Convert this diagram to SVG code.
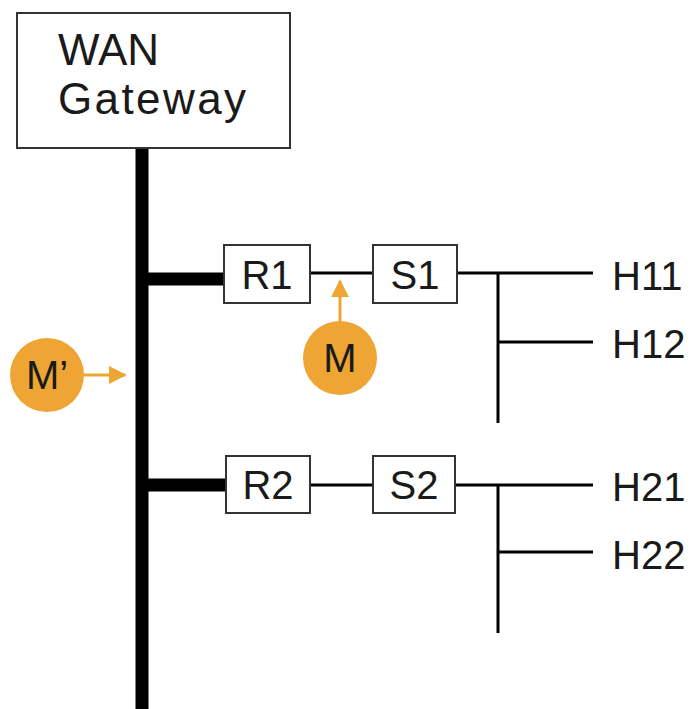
<svg xmlns="http://www.w3.org/2000/svg" width="698" height="709" viewBox="0 0 698 709">
<defs>
<style>
.box{fill:#fff;stroke:#333;stroke-width:2}
.t{font-family:"Liberation Sans",Arial,sans-serif;fill:#1a1a1a}
.thin{stroke:#000;stroke-width:3;fill:none}
.thick{stroke:#000;stroke-width:13;fill:none}
.or{stroke:#EFA534;stroke-width:3;fill:none}
.circ{fill:#EFA534}
</style>
<marker id="ah" viewBox="0 0 10 10" refX="9" refY="5" markerWidth="6" markerHeight="6" orient="auto" markerUnits="strokeWidth">
<path d="M0,0 L10,5 L0,10 Z" fill="#EFA534"/>
</marker>
</defs>
<rect width="698" height="709" fill="#fff"/>
<g id="connectors">
<line class="thick" x1="142" y1="148" x2="142" y2="709"/>
<line class="thick" x1="142" y1="279" x2="224" y2="279"/>
<line class="thick" x1="142" y1="485" x2="226" y2="485"/>
<line class="thin" x1="310" y1="273" x2="373" y2="273"/>
<line class="thin" x1="310" y1="485" x2="373" y2="485"/>
<line class="thin" x1="457" y1="273" x2="593" y2="273"/>
<line class="thin" x1="498" y1="273" x2="498" y2="423"/>
<line class="thin" x1="498" y1="342" x2="593" y2="342"/>
<line class="thin" x1="455" y1="485" x2="593" y2="485"/>
<line class="thin" x1="498" y1="485" x2="498" y2="633"/>
<line class="thin" x1="498" y1="552" x2="593" y2="552"/>
<line class="or" x1="340" y1="322" x2="340" y2="281" marker-end="url(#ah)"/>
<line class="or" x1="84" y1="375" x2="125" y2="375" marker-end="url(#ah)"/>
</g>
<g id="wan">
<rect class="box" x="17" y="13" width="273" height="135"/>
<text class="t" x="58" y="65" font-size="44">WAN</text>
<text class="t" x="58" y="114" font-size="44" textLength="188">Gateway</text>
</g>
<g id="r1">
<rect class="box" x="224" y="245" width="86" height="58"/>
<text class="t" x="267" y="289" font-size="40" text-anchor="middle">R1</text>
</g>
<g id="s1">
<rect class="box" x="373" y="245" width="84" height="58"/>
<text class="t" x="415" y="289" font-size="40" text-anchor="middle">S1</text>
</g>
<g id="r2">
<rect class="box" x="226" y="456" width="84" height="57"/>
<text class="t" x="268" y="499" font-size="40" text-anchor="middle">R2</text>
</g>
<g id="s2">
<rect class="box" x="373" y="456" width="82" height="57"/>
<text class="t" x="414" y="499" font-size="40" text-anchor="middle">S2</text>
</g>
<g id="h11"><text class="t" x="612" y="290" font-size="40">H11</text></g>
<g id="h12"><text class="t" x="612" y="358" font-size="40">H12</text></g>
<g id="h21"><text class="t" x="612" y="501" font-size="40">H21</text></g>
<g id="h22"><text class="t" x="612" y="569" font-size="40">H22</text></g>
<g id="m">
<circle class="circ" cx="340" cy="358" r="37"/>
<text class="t" x="340" y="372" font-size="40" text-anchor="middle">M</text>
</g>
<g id="mprime">
<circle class="circ" cx="47" cy="375" r="37"/>
<text class="t" x="47" y="389" font-size="40" text-anchor="middle">M’</text>
</g>
</svg>
